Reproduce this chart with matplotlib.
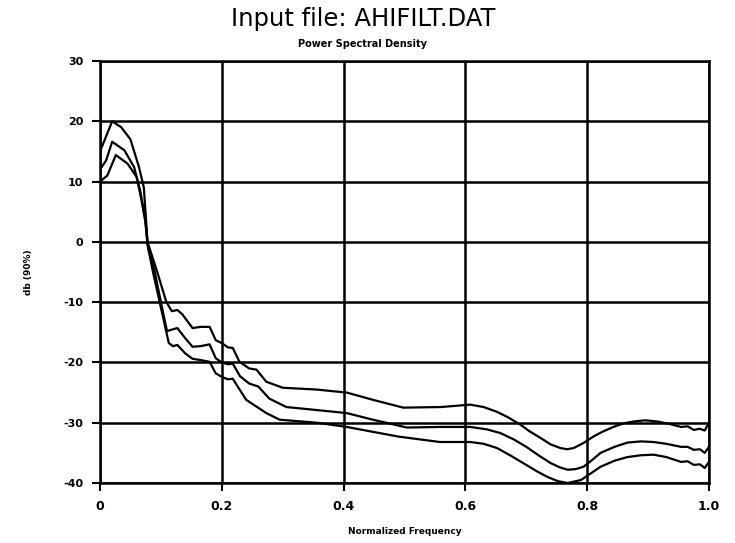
import matplotlib
matplotlib.use("Agg")
import matplotlib.pyplot as plt

# normalized frequency / dB values
freq_upper = [0.0, 0.01, 0.02, 0.035, 0.05, 0.064, 0.072, 0.078, 0.094, 0.109, 0.118,
              0.127, 0.135, 0.152, 0.165, 0.18, 0.19, 0.2, 0.21, 0.218, 0.229, 0.245,
              0.257, 0.273, 0.3, 0.356, 0.405, 0.448, 0.498, 0.56, 0.608, 0.63, 0.652,
              0.67, 0.69, 0.705, 0.723, 0.74, 0.756, 0.767, 0.778, 0.795, 0.81, 0.825,
              0.843, 0.86, 0.876, 0.895, 0.915, 0.935, 0.954, 0.965, 0.975, 0.985,
              0.993, 1.0]
db_upper = [15.0, 17.5, 20.0, 19.0, 17.0, 12.4, 9.0, 0.0, -5.0, -10.0, -11.5,
            -11.3, -12.0, -14.3, -14.1, -14.1, -16.3, -16.8, -17.5, -17.6, -19.9, -21.0,
            -21.2, -23.2, -24.2, -24.5, -25.0, -26.2, -27.5, -27.4, -27.0, -27.4, -28.2,
            -29.1, -30.3, -31.4, -32.5, -33.6, -34.2, -34.4, -34.2, -33.3, -32.3, -31.5,
            -30.7, -30.1, -29.8, -29.6, -29.8, -30.2, -30.7, -30.6, -31.2, -31.0,
            -31.3, -30.0]

freq_middle = [0.0, 0.01, 0.02, 0.04, 0.056, 0.066, 0.074, 0.078, 0.09, 0.1, 0.11,
               0.12, 0.127, 0.14, 0.152, 0.165, 0.18, 0.19, 0.2, 0.21, 0.218, 0.23,
               0.245, 0.26, 0.278, 0.306, 0.356, 0.405, 0.448, 0.504, 0.558, 0.608,
               0.635, 0.657, 0.68, 0.7, 0.72, 0.74, 0.755, 0.768, 0.781, 0.794, 0.808,
               0.822, 0.845, 0.866, 0.888, 0.909, 0.93, 0.954, 0.965, 0.975, 0.985,
               0.993, 1.0]
db_middle = [12.0, 13.5, 16.6, 15.2, 12.4, 8.5, 4.0, -0.5, -5.0, -10.0, -14.8,
             -14.5, -14.3, -16.0, -17.4, -17.3, -17.0, -19.3, -20.0, -20.3, -20.2, -22.3,
             -23.5, -24.0, -26.0, -27.4, -27.9, -28.4, -29.5, -30.8, -30.7, -30.7,
             -31.1, -31.7, -32.8, -34.0, -35.4, -36.7, -37.4, -37.8, -37.7, -37.3, -36.2,
             -35.0, -34.0, -33.3, -33.1, -33.2, -33.5, -34.0, -34.0, -34.5, -34.4,
             -35.0, -34.0]

freq_lower = [0.0, 0.012, 0.026, 0.045, 0.06, 0.068, 0.075, 0.079, 0.087, 0.098, 0.113,
              0.12, 0.127, 0.14, 0.152, 0.165, 0.18, 0.19, 0.2, 0.21, 0.218, 0.24,
              0.273, 0.295, 0.356, 0.405, 0.49, 0.558, 0.608, 0.63, 0.652, 0.675,
              0.7, 0.718, 0.735, 0.752, 0.768, 0.79, 0.806, 0.822, 0.845, 0.866, 0.888,
              0.909, 0.93, 0.954, 0.965, 0.975, 0.985, 0.993, 1.0]
db_lower = [10.0, 11.0, 14.4, 13.0, 10.8, 7.0, 3.0, -1.0, -5.0, -10.0, -16.8,
            -17.3, -17.1, -18.5, -19.4, -19.6, -19.9, -21.8, -22.4, -22.8, -22.7, -26.2,
            -28.4, -29.5, -30.0, -30.7, -32.3, -33.2, -33.2, -33.5, -34.2, -35.5,
            -37.0, -38.1, -39.0, -39.7, -40.0, -39.5, -38.4, -37.3, -36.3, -35.7, -35.4,
            -35.3, -35.7, -36.5, -36.4, -37.0, -36.9, -37.5, -36.5]

x_ticks = [0, 0.2, 0.4, 0.6, 0.8, 1.0]
x_labels = ["0", "0.2", "0.4", "0.6", "0.8", "1.0"]
y_ticks = [-40, -30, -20, -10, 0, 10, 20, 30]

fig = plt.figure(figsize=(7.35, 5.43), dpi=100)
ax = fig.add_axes([100 / 735, 1 - 483 / 543, 609 / 735, 422 / 543])

for f, d in [(freq_upper, db_upper), (freq_middle, db_middle), (freq_lower, db_lower)]:
    ax.plot(f, d, color="black", linewidth=1.6)

ax.set_xlim(0, 1.0)
ax.set_ylim(-40, 30)
ax.set_xticks(x_ticks)
ax.set_xticklabels(x_labels, fontsize=9, fontweight="bold")
ax.set_yticks(y_ticks)
ax.set_yticklabels([str(v) for v in y_ticks], fontsize=8, fontweight="bold")
ax.tick_params(direction="out", length=6, width=1.5, pad=6)
ax.grid(True, color="black", linewidth=1.8)
for s in ax.spines.values():
    s.set_linewidth(1.8)

ax.set_xlabel("Normalized Frequency", fontsize=6.5, fontweight="bold", labelpad=10)
ax.set_ylabel("db (90%)", fontsize=6.5, fontweight="bold", labelpad=22)

fig.text(363 / 735, 1 - 19 / 543, "Input file: AHIFILT.DAT", ha="center", va="center", fontsize=17.5)
fig.text(363 / 735, 1 - 44 / 543, "Power Spectral Density", ha="center", va="center",
         fontsize=7, fontweight="bold")

fig.savefig("out.png", dpi=100)
